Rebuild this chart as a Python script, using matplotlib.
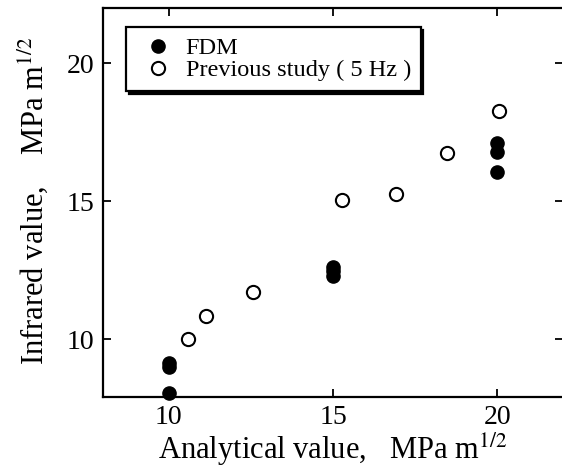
import matplotlib
matplotlib.use("Agg")
import matplotlib.pyplot as plt

fdm_x = [10, 10, 10, 15, 15, 15, 20, 20, 20]
fdm_y = [8.05, 9.0, 9.15, 12.3, 12.45, 12.62, 16.05, 16.78, 17.1]
prev_x = [10.6, 11.12, 12.58, 15.26, 16.92, 18.47, 20.06]
prev_y = [10.0, 10.82, 11.7, 15.03, 15.27, 16.75, 18.28]
xticks = [10, 15, 20]
yticks = [10, 15, 20]

plt.rcParams['font.family'] = ['Liberation Serif', 'DejaVu Serif']
plt.rcParams['mathtext.fontset'] = 'stix'

fig = plt.figure(figsize=(5.62, 4.70), dpi=100)
ax = fig.add_axes([0.1833, 0.1553, 0.8185, 0.8277])

ax.plot(fdm_x, fdm_y, 'o', color='black', markersize=9.5, label='FDM', clip_on=False, zorder=3)
ax.plot(prev_x, prev_y, 'o', markerfacecolor='white', markeredgecolor='black',
        markeredgewidth=1.5, markersize=9.5, label='Previous study ( 5 Hz )', clip_on=False, zorder=3)

ax.set_xlim(8, 22)
ax.set_ylim(7.9, 22)
ax.set_xticks(xticks)
ax.set_yticks(yticks)
ax.tick_params(direction='in', length=6, width=1.3, labelsize=20, top=True, right=True, pad=6)
for s in ax.spines.values():
    s.set_linewidth(1.6)

ax.set_xlabel('Analytical value,   MPa m$^{1/2}$', fontsize=22, labelpad=0)
ax.set_ylabel('Infrared value,    MPa m$^{1/2}$', fontsize=22)
ax.yaxis.set_label_coords(-0.115, 0.505)

leg = ax.legend(loc='upper left', bbox_to_anchor=(0.05, 0.95), fontsize=17.5, frameon=True,
                fancybox=False, shadow={'color': 'black', 'alpha': 1.0}, handletextpad=0.25,
                borderpad=0.4, labelspacing=0.0, handlelength=1.8, borderaxespad=0)
leg.get_frame().set_edgecolor('black')
leg.get_frame().set_linewidth(1.6)
leg.get_frame().set_alpha(1.0)

fig.savefig('out.png', dpi=100)
